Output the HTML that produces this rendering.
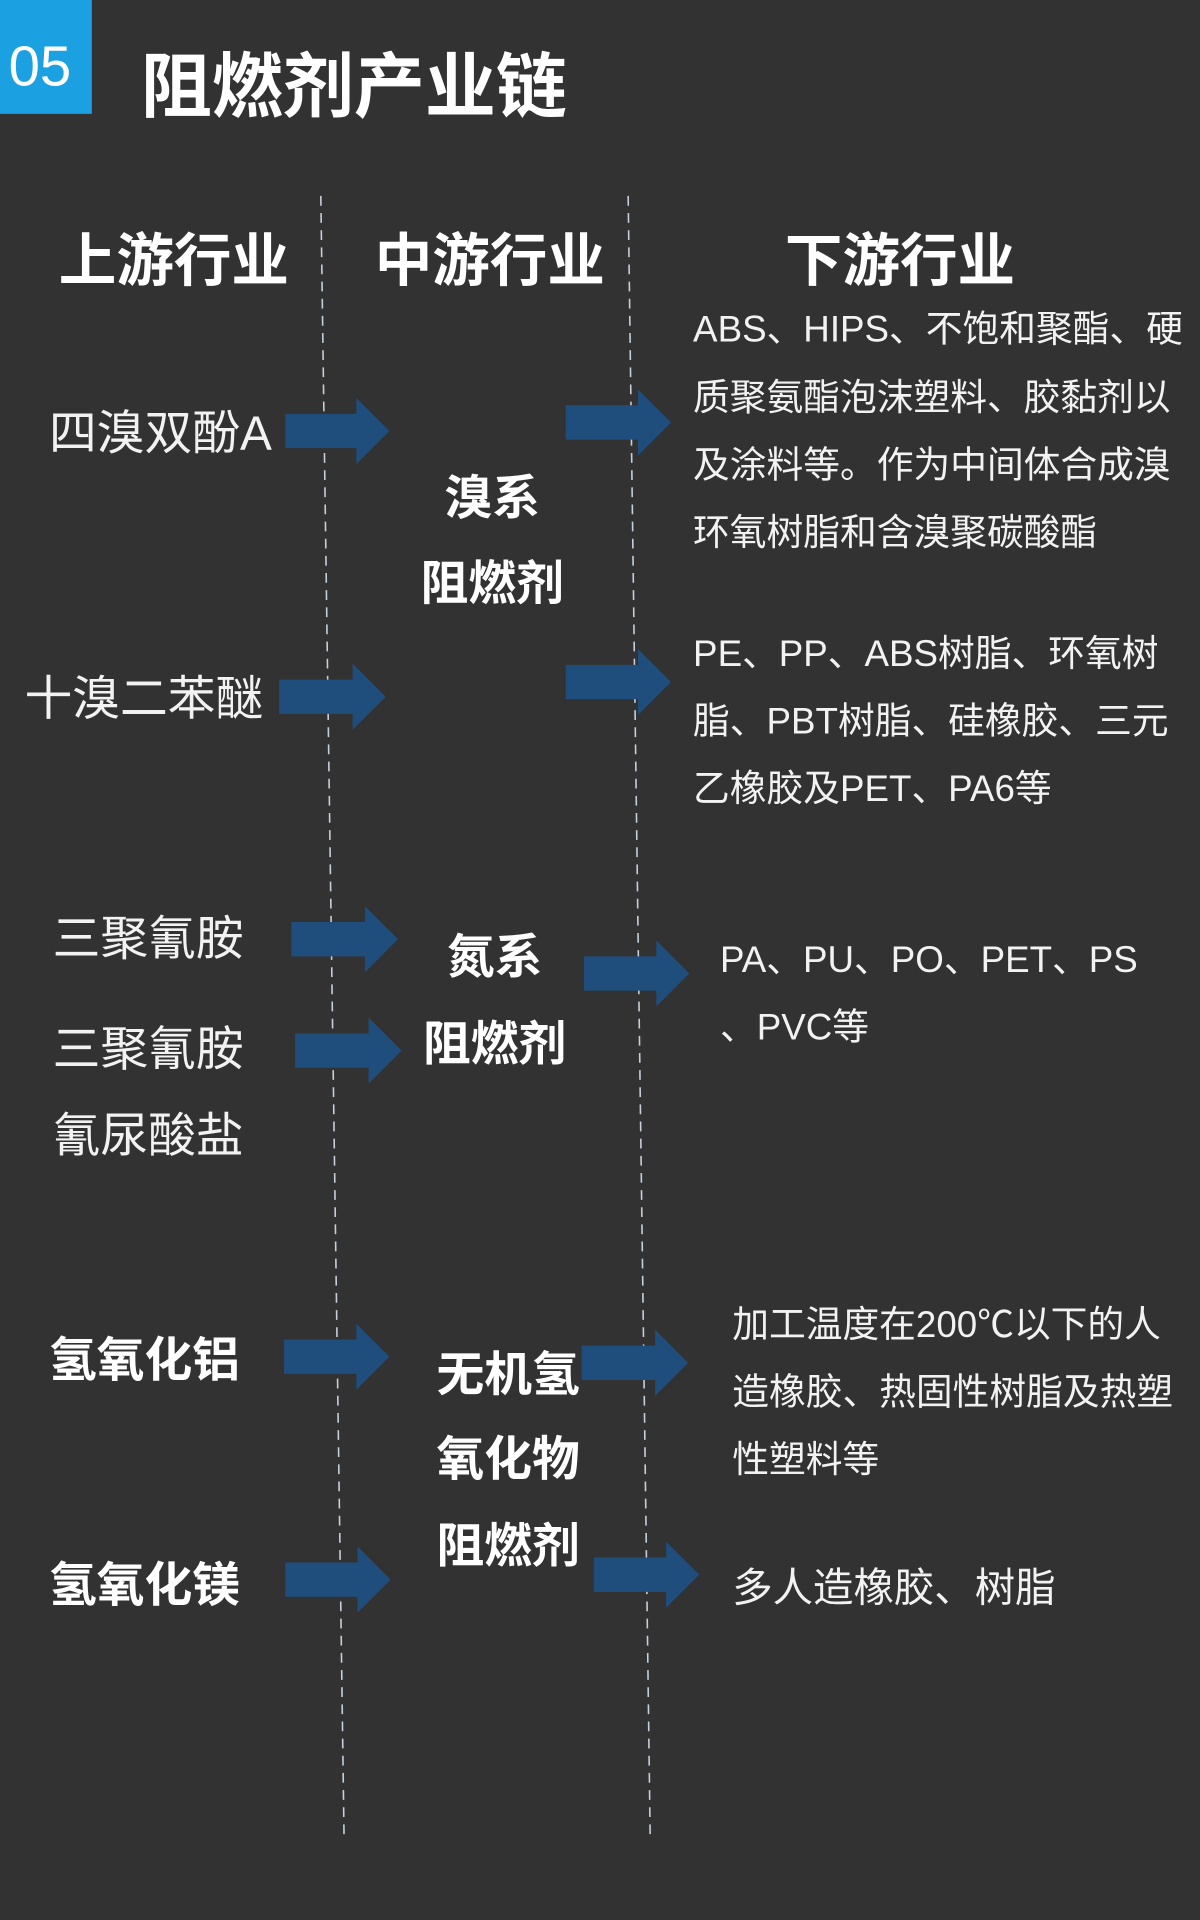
<!DOCTYPE html>
<html><head><meta charset="utf-8"><style>
html,body{margin:0;padding:0;background:#323232;}
#w{position:relative;width:1200px;height:1920px;overflow:hidden;background:#323232;}
#c{position:absolute;left:0;top:0;width:980px;height:1568px;transform:scale(1.22449);transform-origin:0 0;}
.t{position:absolute;white-space:nowrap;line-height:1;color:#fff;font-family:"Liberation Sans","Noto Sans CJK SC",sans-serif;}
.b{font-weight:bold;}
.d{font-size:30px;color:#f2f2f2;}
.l{font-size:39px;color:#f2f2f2;}
.m{font-size:39px;font-weight:bold;width:140px;text-align:center;}
.h{font-size:47px;font-weight:bold;}
</style></head><body><div id="w"><div id="c">
<div style="position:absolute;left:0;top:0;width:75px;height:93px;background:#1ba1e2;"></div>
<div class="t" style="left:7px;top:31px;font-size:46px;">05</div>
<div class="t b" style="left:115px;top:43px;font-size:58px;">阻燃剂产业链</div>

<svg style="position:absolute;left:0;top:0" width="980" height="1568">
<line x1="262" y1="160" x2="281" y2="1502" stroke="#c6d0dc" stroke-width="1.3" stroke-dasharray="8,6"/>
<line x1="513" y1="160" x2="531" y2="1502" stroke="#c6d0dc" stroke-width="1.3" stroke-dasharray="8,6"/>
<g fill="#1f4e7d">
<polygon points="233,338 291,338 291,325 318,352 291,379 291,366 233,366"/>
<polygon points="462,331 521,331 521,318 548,345 521,372 521,359 462,359"/>
<polygon points="228,555 288,555 288,542 315,569 288,596 288,583 228,583"/>
<polygon points="462,543 521,543 521,530 548,557 521,584 521,571 462,571"/>
<polygon points="238,753 298,753 298,740 325,767 298,794 298,781 238,781"/>
<polygon points="241,844 301,844 301,831 328,858 301,885 301,872 241,872"/>
<polygon points="477,781 536,781 536,768 563,795 536,822 536,809 477,809"/>
<polygon points="232,1094 291,1094 291,1081 318,1108 291,1135 291,1122 232,1122"/>
<polygon points="475,1099 535,1099 535,1086 562,1113 535,1140 535,1127 475,1127"/>
<polygon points="233,1276 292,1276 292,1263 319,1290 292,1317 292,1304 233,1304"/>
<polygon points="485,1272 544,1272 544,1259 571,1286 544,1313 544,1300 485,1300"/>
</g>
</svg>

<div class="t h" style="left:48px;top:189px;">上游行业</div>
<div class="t h" style="left:306px;top:189px;">中游行业</div>
<div class="t h" style="left:641px;top:189px;">下游行业</div>

<div class="t l" style="left:40px;top:335px;">四溴双酚A</div>
<div class="t l" style="left:20px;top:552px;">十溴二苯醚</div>
<div class="t l" style="left:43px;top:748px;">三聚氰胺</div>
<div class="t l" style="left:43px;top:838px;">三聚氰胺</div>
<div class="t l" style="left:43px;top:909px;">氰尿酸盐</div>
<div class="t l b" style="left:40px;top:1092px;color:#fff;">氢氧化铝</div>
<div class="t l b" style="left:40px;top:1276px;color:#fff;">氢氧化镁</div>

<div class="t m" style="left:332px;top:388px;">溴系</div>
<div class="t m" style="left:332px;top:458px;">阻燃剂</div>
<div class="t m" style="left:334px;top:763px;">氮系</div>
<div class="t m" style="left:334px;top:834px;">阻燃剂</div>
<div class="t m" style="left:345px;top:1104px;">无机氢</div>
<div class="t m" style="left:345px;top:1173px;">氧化物</div>
<div class="t m" style="left:345px;top:1244px;">阻燃剂</div>

<div class="t d" style="left:566px;top:255px;">ABS、HIPS、不饱和聚酯、硬</div>
<div class="t d" style="left:566px;top:311px;">质聚氨酯泡沫塑料、胶黏剂以</div>
<div class="t d" style="left:566px;top:366px;">及涂料等。作为中间体合成溴</div>
<div class="t d" style="left:566px;top:421px;">环氧树脂和含溴聚碳酸酯</div>
<div class="t d" style="left:566px;top:520px;">PE、PP、ABS树脂、环氧树</div>
<div class="t d" style="left:566px;top:575px;">脂、PBT树脂、硅橡胶、三元</div>
<div class="t d" style="left:566px;top:630px;">乙橡胶及PET、PA6等</div>
<div class="t d" style="left:588px;top:770px;">PA、PU、PO、PET、PS</div>
<div class="t d" style="left:588px;top:825px;">、PVC等</div>
<div class="t d" style="left:598px;top:1068px;">加工温度在200℃以下的人</div>
<div class="t d" style="left:598px;top:1123px;">造橡胶、热固性树脂及热塑</div>
<div class="t d" style="left:598px;top:1178px;">性塑料等</div>
<div class="t d" style="left:598px;top:1280px;font-size:33px;">多人造橡胶、树脂</div>
</div></div></body></html>
